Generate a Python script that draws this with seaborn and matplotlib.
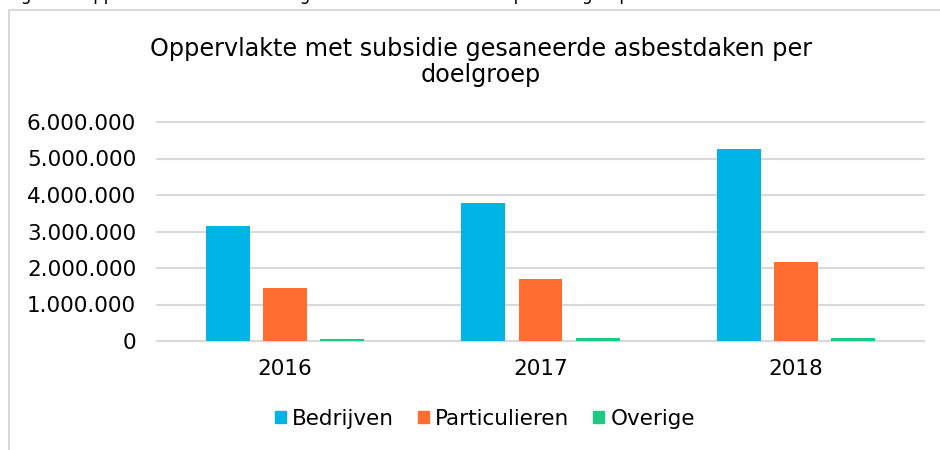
import matplotlib
matplotlib.use("Agg")
import matplotlib.pyplot as plt
import seaborn as sns
import pandas as pd
from matplotlib.lines import Line2D
from matplotlib.patches import Rectangle
from matplotlib.ticker import FuncFormatter

years = ["2016", "2017", "2018"]
groups = ["Bedrijven", "Particulieren", "Overige"]
bedrijven = [3160000, 3780000, 5250000]
particulieren = [1460000, 1700000, 2160000]
overige = [65000, 95000, 85000]
yticks = [0, 1000000, 2000000, 3000000, 4000000, 5000000, 6000000]

colors = ["#00B4E5", "#FF6D31", "#1DC983"]
grid_col = "#D9D9D9"

df = pd.DataFrame({
    "jaar": years * 3,
    "doelgroep": [g for g in groups for _ in years],
    "oppervlakte": bedrijven + particulieren + overige,
})

sns.set_theme(style="white")
plt.rcParams["font.family"] = ["DejaVu Sans"]

fig = plt.figure(figsize=(9.4, 4.5), dpi=100)
ax = fig.add_axes([157 / 940, 109 / 450, 767 / 940, 219 / 450])

sns.barplot(data=df, x="jaar", y="oppervlakte", hue="doelgroep",
            order=years, hue_order=groups, palette=colors, saturation=1,
            width=0.67, gap=0.23, linewidth=0,
            legend=False, ax=ax)

ax.set_ylim(0, 6000000)
ax.set_yticks(yticks)
ax.yaxis.set_major_formatter(FuncFormatter(lambda v, p: f"{int(v):,}".replace(",", ".")))
ax.set_xlabel("")
ax.set_ylabel("")
ax.yaxis.grid(True, color=grid_col, linewidth=1.5)
for gl in ax.get_ygridlines():
    gl.set_clip_on(False)
ax.set_axisbelow(True)
for s in ["top", "left", "right"]:
    ax.spines[s].set_visible(False)
ax.spines["bottom"].set_color(grid_col)
ax.spines["bottom"].set_linewidth(1.5)
ax.spines["bottom"].set_zorder(0.6)
ax.tick_params(axis="y", length=0, pad=15, labelsize=15.5, labelcolor="#000000")
ax.tick_params(axis="x", length=0, pad=13, labelsize=15.5, labelcolor="#000000")

fig.text(481 / 940, 1 - 62 / 450,
         "Oppervlakte met subsidie gesaneerde asbestdaken per\ndoelgroep",
         ha="center", va="center", multialignment="center",
         fontsize=17.2, linespacing=1.15, color="#000000")

handles = [Rectangle((0, 0), 1, 1, color=c) for c in colors]
leg = fig.legend(handles, groups, loc="center", bbox_to_anchor=(485 / 940, 1 - 419 / 450),
                 ncol=3, frameon=False, fontsize=15.5, handlelength=0.5, handleheight=0.5,
                 handletextpad=0.3, columnspacing=1.1)
for t in leg.get_texts():
    t.set_color("#000000")

# chart frame (partially outside the picture)
fig.add_artist(Line2D([8.5 / 940, 8.5 / 940], [0, 1 - 10 / 450],
                      transform=fig.transFigure, color=grid_col, lw=1.5))
fig.add_artist(Line2D([8.5 / 940, 1], [1 - 10 / 450, 1 - 10 / 450],
                      transform=fig.transFigure, color=grid_col, lw=1.5))

# caption above the chart, only the descenders show
fig.text(8 / 940, 1 + 0.5 / 450,
         "Figuur 7 Oppervlakte met subsidie gesaneerde asbestdaken per doelgroep",
         ha="left", va="baseline", fontsize=12, color="#000000")

fig.savefig("out.png", dpi=100)
